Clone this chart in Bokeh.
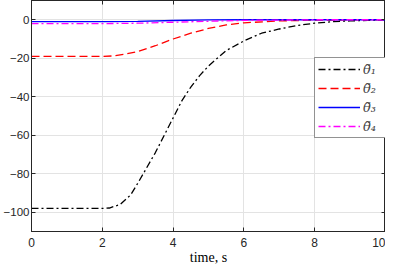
from bokeh.plotting import figure
from bokeh.models import Range1d, LinearAxis, FixedTicker, Legend, LegendItem
from bokeh.embed import file_html
from bokeh.resources import INLINE

# data
t1 = [0, 1, 2, 2.2, 2.5, 2.8, 3, 3.25, 3.5, 3.75, 4, 4.25, 4.5, 4.75, 5, 5.5, 6, 6.5, 7, 7.5, 8, 8.5, 9, 9.5, 10]
th1 = [-98, -98, -98, -97.8, -96, -91, -85, -77, -69, -60, -51, -42, -35, -29, -24, -16, -11, -7, -4.8, -3, -1.8, -1, -0.6, -0.3, -0.1]
t2 = [0, 2, 2.3, 2.6, 3, 3.5, 4, 4.5, 5, 5.5, 6, 7, 8, 9, 10]
th2 = [-19, -19, -18.8, -18, -16.5, -13.5, -10, -7, -4.5, -2.7, -1.6, -0.6, -0.2, -0.1, 0]
t3 = [0, 2, 3, 4, 5, 6, 10]
th3 = [-1, -1, -0.8, -0.4, -0.1, 0, 0]
t4 = [0, 2, 3, 4, 5, 6, 8, 10]
th4 = [-2, -2, -1.8, -1.3, -0.8, -0.3, 0, 0]
x_ticks = [0, 2, 4, 6, 8, 10]
y_ticks = [-100, -80, -60, -40, -20, 0]
labels = ["θ̃₁", "θ̃₂", "θ̃₃", "θ̃₄"]

AX = "#262626"
p = figure(width=385, height=267, output_backend="svg", toolbar_location=None,
           x_range=Range1d(0, 10), y_range=Range1d(-110, 10),
           min_border_left=23, min_border_right=0, min_border_top=0, min_border_bottom=0)
p.background_fill_color = "white"
p.outline_line_color = AX
p.outline_line_width = 1

for ax in (p.xaxis[0], p.yaxis[0]):
    ax.major_tick_in = 4
    ax.major_tick_out = 0
    ax.minor_tick_in = 0
    ax.minor_tick_out = 0
    ax.axis_line_color = AX
    ax.major_tick_line_color = AX
    ax.major_label_text_font = "Liberation Sans"
    ax.major_label_text_font_size = "12px"
    ax.major_label_text_color = AX
p.yaxis[0].major_label_text_font_size = "11.5px"
p.xaxis[0].ticker = FixedTicker(ticks=x_ticks)
p.yaxis[0].ticker = FixedTicker(ticks=y_ticks)
p.xaxis[0].major_label_standoff = 6
p.yaxis[0].major_label_standoff = 2
p.xaxis[0].axis_label = "time, s"
p.xaxis[0].axis_label_text_font = "Liberation Serif"
p.xaxis[0].axis_label_text_font_style = "normal"
p.xaxis[0].axis_label_text_font_size = "14px"
p.xaxis[0].axis_label_text_color = "black"
p.xaxis[0].axis_label_standoff = 0

top = LinearAxis(ticker=FixedTicker(ticks=x_ticks), major_tick_in=4, major_tick_out=0,
                 minor_tick_in=0, minor_tick_out=0,
                 major_label_overrides={t: "" for t in x_ticks},
                 major_label_standoff=0, axis_line_color=AX, major_tick_line_color=AX)
right = LinearAxis(ticker=FixedTicker(ticks=y_ticks), major_tick_in=4, major_tick_out=0,
                   minor_tick_in=0, minor_tick_out=0,
                   major_label_overrides={t: "" for t in y_ticks},
                   major_label_standoff=0, axis_line_color=AX, major_tick_line_color=AX)
p.add_layout(top, "above")
p.add_layout(right, "right")

p.xgrid.ticker = FixedTicker(ticks=x_ticks)
p.ygrid.ticker = FixedTicker(ticks=y_ticks)
p.grid.grid_line_color = "#e3e3e3"
p.grid.grid_line_width = 1

r1 = p.line(t1, th1, line_color="black", line_width=1.3, line_dash="7 3 2 3")
r2 = p.line(t2, th2, line_color="#ff0000", line_width=1.3, line_dash="8 4")
r3 = p.line(t3, th3, line_color="#0000ff", line_width=1.3)
r4 = p.line(t4, th4, line_color="#ff00ff", line_width=1.3, line_dash="7 3 2 3")

legend = Legend(items=[LegendItem(label=labels[i], renderers=[r]) for i, r in enumerate([r1, r2, r3, r4])],
                location=(283, 93))
legend.glyph_width = 42
legend.glyph_height = 16
legend.label_height = 16
legend.spacing = 3
legend.padding = 3
legend.margin = 0
legend.label_standoff = 3
legend.border_line_color = AX
legend.border_line_width = 1
legend.label_text_font = "DejaVu Serif"
legend.label_text_font_style = "italic"
legend.label_text_font_size = "13px"
legend.background_fill_alpha = 1
p.add_layout(legend)

open("out.html", "w").write(file_html(p, INLINE))
